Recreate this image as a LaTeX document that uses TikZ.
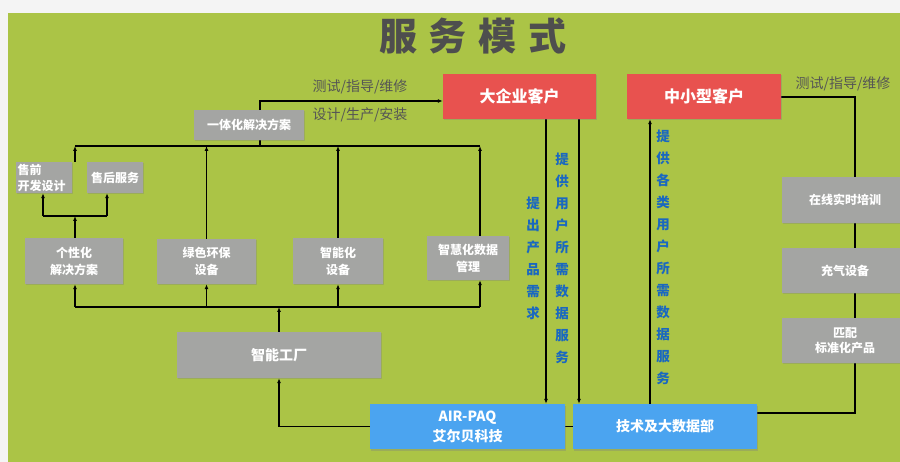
\documentclass[tikz,border=0pt]{standalone}
\usepackage{fontspec}
\setmainfont{Noto Sans CJK SC}
\usetikzlibrary{arrows.meta,shadows}
\definecolor{bggreen}{HTML}{ABC446}
\definecolor{frame}{HTML}{F4F4F4}
\definecolor{boxred}{HTML}{E8524F}
\definecolor{boxgray}{HTML}{A4A5A3}
\definecolor{boxblue}{HTML}{4BA4F0}
\definecolor{txtblue}{HTML}{1A68C0}
\definecolor{txtgray}{HTML}{555555}
\definecolor{titlegray}{HTML}{4E4E4E}
\pgfdeclarelayer{back}
\pgfdeclarelayer{lines}
\pgfsetlayers{back,lines,main}
\tikzset{
  x=1pt, y=-1pt,
  base/.style={inner sep=0pt, align=center, text=white, font=\bfseries},
  redbox/.style={base, fill=boxred, font=\fontsize{16}{18}\selectfont\bfseries,
     drop shadow={shadow xshift=1pt, shadow yshift=-1.5pt, opacity=0.35}},
  graybox/.style={base, fill=boxgray, font=\fontsize{12}{17}\selectfont\bfseries,
     drop shadow={shadow xshift=1pt, shadow yshift=-1.5pt, opacity=0.35}},
  bluebox/.style={base, fill=boxblue, font=\fontsize{14}{20}\selectfont\bfseries,
     drop shadow={shadow xshift=1pt, shadow yshift=-1.5pt, opacity=0.35}},
  vtext/.style={inner sep=0pt, align=center, text=txtblue, font=\fontsize{13.5}{22}\selectfont\bfseries},
  lbl/.style={inner sep=0pt, text=txtgray, font=\fontsize{14}{16}\selectfont},
  conn/.style={line width=1.4pt, black},
  arr/.style={conn, -{Latex[length=5pt,width=4pt]}},
}
\begin{document}
\begin{tikzpicture}
\useasboundingbox (0,0) rectangle (900,462);
\begin{pgfonlayer}{back}
  \fill[frame] (0,0) rectangle (900,462);
  \fill[bggreen] (8,13) rectangle (900,462);
\end{pgfonlayer}

% title
\node[inner sep=0pt, text=titlegray, font=\fontsize{38}{40}\selectfont\bfseries] (title) at (473,36)
  {服\hspace{12pt}务\hspace{12pt}模\hspace{12pt}式};

% red client boxes
\node[redbox, minimum width=153pt, minimum height=45pt] (dqy) at (519.5,96.5) {大企业客户};
\node[redbox, minimum width=154pt, minimum height=45pt] (zxx) at (704,96.5) {中小型客户};

% gray boxes left
\node[graybox, minimum width=110pt, minimum height=30pt] (ytj) at (249,125) {一体化解决方案};
\node[graybox, minimum width=56pt, minimum height=31pt, align=left, text width=53pt,
      font=\fontsize{12}{16}\selectfont\bfseries] (qian) at (44,177.5) {售前\\开发设计};
\node[graybox, minimum width=56pt, minimum height=31pt] (hou) at (115,177.5) {售后服务};
\node[graybox, minimum width=98pt, minimum height=46pt] (gxh) at (74,261) {个性化\\解决方案};
\node[graybox, minimum width=99pt, minimum height=45pt] (lshb) at (206.5,261.5) {绿色环保\\设备};
\node[graybox, minimum width=90pt, minimum height=46pt] (znh) at (338,261) {智能化\\设备};
\node[graybox, minimum width=82pt, minimum height=44pt] (zhh) at (468,258) {智慧化数据\\管理};
\node[graybox, minimum width=204pt, minimum height=46pt, font=\fontsize{14}{17}\selectfont\bfseries] (zngc) at (279,355) {智能工厂};

% blue boxes
\node[bluebox, minimum width=195pt, minimum height=45pt] (air) at (467.5,426.5) {AIR-PAQ\\艾尔贝科技};
\node[bluebox, minimum width=184pt, minimum height=45pt] (jsh) at (665,426.5) {技术及大数据部};

% right gray boxes
\node[graybox, minimum width=126pt, minimum height=46pt] (zxpx) at (845,200) {在线实时培训};
\node[graybox, minimum width=126pt, minimum height=45pt] (cqsb) at (845,270.5) {充气设备};
\node[graybox, minimum width=126pt, minimum height=45pt, font=\fontsize{12}{15}\selectfont\bfseries] (ppbz) at (845,340.5) {匹配\\标准化产品};

% labels
\node[lbl] (l1) at (360,87) {测试/指导/维修};
\node[lbl] (l2) at (360,115) {设计/生产/安装};
\node[lbl] (l3) at (843,84) {测试/指导/维修};

% vertical texts
\node[vtext] (v1) at (533,258) {提\\出\\产\\品\\需\\求};
\node[vtext] (v2) at (562,258) {提\\供\\用\\户\\所\\需\\数\\据\\服\\务};
\node[vtext] (v3) at (663,257.5) {提\\供\\各\\类\\用\\户\\所\\需\\数\\据\\服\\务};

% helper coordinates
\coordinate (t1) at (260,101);
\coordinate (bL) at (75,146);
\coordinate (bM) at (260,146);
\coordinate (bR) at (480,146);
\coordinate (cL) at (75,307);
\coordinate (cM) at (279,307);
\coordinate (cR) at (480,307);
\coordinate (sL) at (43,216);
\coordinate (sM) at (75,216);
\coordinate (sR) at (107,216);
\coordinate (a1) at (546,0);
\coordinate (a2) at (579,0);
\coordinate (a3) at (650,0);
\coordinate (r1) at (855,97);
\coordinate (r2) at (855,413);

\begin{pgfonlayer}{lines}
  % top: integrated solution -> big client
  \draw[arr] (ytj.north -| t1) -- (t1) -- (dqy.west |- t1);
  % upper bus
  \draw[conn] (bL) -- (bR);
  \draw[conn] (ytj.south -| bM) -- (bM);
  \draw[arr] (qian.north -| bL) -- (bL);
  \draw[arr] (lshb.north) -- (lshb.north |- bL);
  \draw[arr] (znh.north) -- (znh.north |- bL);
  \draw[arr] (zhh.north -| bR) -- (bR);
  % lower bus
  \draw[conn] (cL) -- (cR);
  \draw[arr] (cL) -- (gxh.south -| cL);
  \draw[arr] (lshb.south |- cL) -- (lshb.south);
  \draw[arr] (znh.south |- cL) -- (znh.south);
  \draw[arr] (cR) -- (zhh.south -| cR);
  \draw[arr] (zngc.north) -- (cM);
  % personalized -> pre/after sales
  \draw[arr] (gxh.north -| sM) -- (sM);
  \draw[conn] (sL) -- (sR);
  \draw[arr] (sL) -- (qian.south -| sL);
  \draw[arr] (sR) -- (hou.south -| sR);
  % AIR-PAQ -> factory
  \draw[arr] (air.west) -| (zngc.south);
  \draw[conn] (air.east) -- (jsh.west);
  % client <-> data
  \draw[arr] (dqy.south -| a1) -- (air.north -| a1);
  \draw[arr] (dqy.south -| a2) -- (jsh.north -| a2);
  \draw[arr] (jsh.north -| a3) -- (zxx.south -| a3);
  % small clients loop
  \draw[conn] (zxx.east |- r1) -- (r1) -- (r2) -- (jsh.east |- r2);
\end{pgfonlayer}
\end{tikzpicture}
\end{document}
